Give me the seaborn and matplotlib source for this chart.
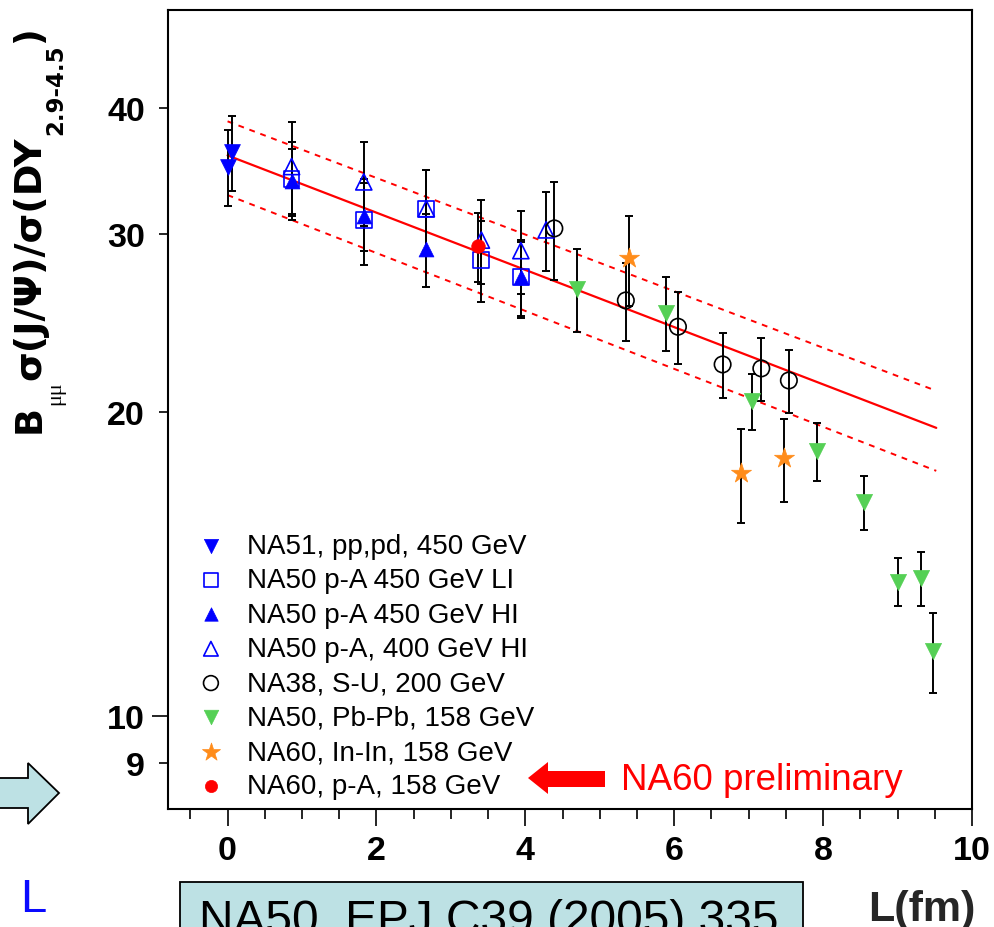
import matplotlib
matplotlib.use("Agg")
import matplotlib.pyplot as plt
from matplotlib.patches import Polygon, Rectangle
from matplotlib.ticker import FixedLocator, MultipleLocator, FuncFormatter
import seaborn as sns

# ---- J/psi / Drell-Yan ratio vs nuclear path length L (fm) ----
na51_L = [0.00, 0.06]
na51_R = [35.0, 36.2]
na51_err = [3.0, 3.1]

na50_li_L = [0.86, 1.83, 2.67, 3.40, 3.94]
na50_li_R = [34.0, 31.0, 31.8, 28.3, 27.2]
na50_li_err = [3.0, 3.0, 2.9, 2.6, 2.4]

na50_hi_L = [0.86, 1.83, 2.67, 3.94]
na50_hi_R = [33.9, 31.3, 29.0, 27.2]
na50_hi_err = [2.5, 2.4, 2.4, 2.3]

na50_400_L = [0.86, 1.83, 2.67, 3.41, 3.94, 4.28]
na50_400_R = [35.0, 33.8, 31.8, 29.6, 28.9, 30.3]
na50_400_err = [3.7, 3.2, 2.9, 2.8, 2.7, 2.7]

na38_L = [4.39, 5.35, 6.05, 6.65, 7.17, 7.54]
na38_R = [30.4, 25.8, 24.3, 22.3, 22.1, 21.5]
na38_err = [3.4, 2.3, 2.0, 1.65, 1.6, 1.55]

pbpb_L = [4.69, 5.89, 7.04, 7.92, 8.55, 9.01, 9.31, 9.48]
pbpb_R = [26.5, 25.1, 20.5, 18.3, 16.3, 13.6, 13.7, 11.6]
pbpb_err = [2.5, 2.1, 1.3, 1.2, 1.0, 0.75, 0.85, 1.05]

inin_L = [5.39, 6.90, 7.47]
inin_R = [28.4, 17.4, 18.0]
inin_err = [2.9, 1.85, 1.7]

na60pa_L = [3.36]
na60pa_R = [29.2]
na60pa_err = [2.3]

# absorption fit (straight on the log axis) and its error band
fit_L = [0.0, 9.52]
fit_mid = [35.9, 19.3]
fit_hi = [38.8, 21.0]
fit_lo = [32.8, 17.5]

series_labels = [
    "NA51, pp,pd, 450 GeV",
    "NA50 p-A 450 GeV LI",
    "NA50 p-A 450 GeV HI",
    "NA50 p-A, 400 GeV HI",
    "NA38, S-U, 200 GeV",
    "NA50, Pb-Pb, 158 GeV",
    "NA60, In-In, 158 GeV",
    "NA60, p-A, 158 GeV",
]
x_ticks = [0, 2, 4, 6, 8, 10]
y_major_ticks = [10]
y_minor_ticks = [9, 20, 30, 40]

BLUE = "#0000ff"
GREEN = "#55d055"
ORANGE = "#ff8c1a"
RED = "#ff0000"

series = [
    dict(L=na51_L, R=na51_R, err=na51_err, marker="v", face=BLUE, edge=BLUE, s=130, lw=0.5),
    dict(L=na50_li_L, R=na50_li_R, err=na50_li_err, marker="s", face="none", edge=BLUE, s=130, lw=1.2),
    dict(L=na50_hi_L, R=na50_hi_R, err=na50_hi_err, marker="^", face=BLUE, edge=BLUE, s=115, lw=0.5),
    dict(L=na50_400_L, R=na50_400_R, err=na50_400_err, marker="^", face="none", edge=BLUE, s=135, lw=1.2),
    dict(L=na38_L, R=na38_R, err=na38_err, marker="o", face="none", edge="black", s=140, lw=1.2),
    dict(L=pbpb_L, R=pbpb_R, err=pbpb_err, marker="v", face=GREEN, edge=GREEN, s=135, lw=0.5),
    dict(L=inin_L, R=inin_R, err=inin_err, marker="*", face=ORANGE, edge=ORANGE, s=230, lw=0.5),
    dict(L=na60pa_L, R=na60pa_R, err=na60pa_err, marker="o", face=RED, edge=RED, s=95, lw=0.5),
]

sns.set_theme(style="ticks")
plt.rcParams["font.family"] = ["Liberation Sans", "DejaVu Sans"]
plt.rcParams["text.color"] = "black"
plt.rcParams["axes.edgecolor"] = "black"
plt.rcParams["xtick.color"] = "black"
plt.rcParams["ytick.color"] = "black"

W, H = 994, 928
fig = plt.figure(figsize=(W / 100, H / 100), dpi=100)
ax = fig.add_axes([168 / W, 1 - 810 / H, (972 - 168) / W, (810 - 11) / H])

# fit line and band
sns.lineplot(x=fit_L, y=fit_mid, color=RED, linewidth=1.6, ax=ax, zorder=2)
sns.lineplot(x=fit_L, y=fit_hi, color=RED, linewidth=1.4, linestyle=(0, (3, 3)), ax=ax, zorder=2)
sns.lineplot(x=fit_L, y=fit_lo, color=RED, linewidth=1.4, linestyle=(0, (3, 3)), ax=ax, zorder=2)

for sr, lab in zip(series, series_labels):
    ax.errorbar(sr["L"], sr["R"], yerr=sr["err"], fmt="none", ecolor="black",
                elinewidth=1.4, capsize=3, capthick=1.4, zorder=2.5)
    sns.scatterplot(x=sr["L"], y=sr["R"], marker=sr["marker"], s=sr["s"],
                    color=sr["face"], edgecolor=sr["edge"], linewidth=sr["lw"],
                    label=lab, legend=False, zorder=3, ax=ax)

ax.set_yscale("log")
ax.set_xlim(-0.8, 10.0)
ax.set_ylim(8.1, 50)

fmt = FuncFormatter(lambda v, p: f"{v:g}")
ax.yaxis.set_major_locator(FixedLocator(y_major_ticks))
ax.yaxis.set_minor_locator(FixedLocator(y_minor_ticks))
ax.yaxis.set_major_formatter(fmt)
ax.yaxis.set_minor_formatter(fmt)
ax.xaxis.set_major_locator(FixedLocator(x_ticks))
ax.xaxis.set_minor_locator(MultipleLocator(0.5))
ax.xaxis.set_major_formatter(fmt)

ax.tick_params(axis="y", which="major", direction="out", length=11.5, width=1.2,
               pad=5, labelsize=24.5)
ax.tick_params(axis="y", which="minor", direction="out", length=6.5, width=1.2,
               pad=10, labelsize=24.5)
ax.tick_params(axis="x", which="major", direction="out", length=12, width=1.2,
               pad=7, labelsize=24.5)
ax.tick_params(axis="x", which="minor", direction="out", length=7, width=1.2)
for lbl in ax.get_yticklabels(which="both") + ax.get_xticklabels(which="both"):
    lbl.set_fontweight("bold")

for sp in ax.spines.values():
    sp.set_linewidth(1.5)
    sp.set_color("black")
ax.grid(False)

ax.set_xlabel("L(fm)", fontsize=31, fontweight="bold", ha="right")
ax.xaxis.set_label_coords(1.004, -0.1)

handles, labels = ax.get_legend_handles_labels()
ax.legend(handles, labels, loc="upper left", bbox_to_anchor=(0.0361, 0.3454),
          frameon=False, fontsize=20, handlelength=1.0, handletextpad=0.79,
          borderpad=0, borderaxespad=0, labelspacing=0.30, markerscale=0.9,
          scatterpoints=1)

# y-axis title, built from pieces so the subscripts can be sized on their own
renderer = fig.canvas.get_renderer()


def title_piece(text, x_px, y_disp, size, weight="bold", family="DejaVu Sans"):
    t = fig.text(x_px / W, y_disp / H, text, rotation=90, rotation_mode="anchor",
                 ha="left", va="baseline", fontsize=size, fontweight=weight,
                 family=family)
    return t.get_window_extent(renderer).y1


y_run = H - 433
y_run = title_piece("B", 40, y_run, 26.5)
y_run = title_piece("μμ", 60, y_run, 16, weight="normal", family="Liberation Serif")
y_run = title_piece("σ(J/Ψ)/σ(DY", 40, y_run + 1, 27.5)
y_run = title_piece("2.9-4.5", 62, y_run + 2, 16.5)
title_piece(")", 40, y_run + 1, 26.5)

# preliminary marker
red_arrow = [(528, 779), (548, 763), (548, 772), (605, 772), (605, 788), (548, 788), (548, 795)]
fig.add_artist(Polygon([(x / W, 1 - y / H) for x, y in red_arrow], closed=True,
                       facecolor=RED, edgecolor="none", transform=fig.transFigure))
fig.text(621 / W, 1 - 790 / H, "NA60 preliminary", color=RED, fontsize=26.5, va="baseline")

# left-hand pointer arrow and note
pointer = [(-5, 779), (28, 779), (28, 764), (59, 794), (28, 825), (28, 809), (-5, 809)]
fig.add_artist(Polygon([(x / W, 1 - y / H) for x, y in pointer], closed=True,
                       facecolor="#bde1e4", edgecolor="black", linewidth=1.3,
                       transform=fig.transFigure))
fig.text(20 / W, 1 - 912 / H, "L", color="#0a0aff", fontsize=34, va="baseline")

# reference box
fig.add_artist(Rectangle((180 / W, 1 - 960 / H), (803 - 180) / W, (960 - 883) / H,
                         facecolor="#bde1e4", edgecolor="black", linewidth=1.3,
                         transform=fig.transFigure))
fig.text(199 / W, 1 - 934 / H, "NA50, EPJ C39 (2005) 335", fontsize=34.5, va="baseline")

fig.savefig("out.png", dpi=100)
